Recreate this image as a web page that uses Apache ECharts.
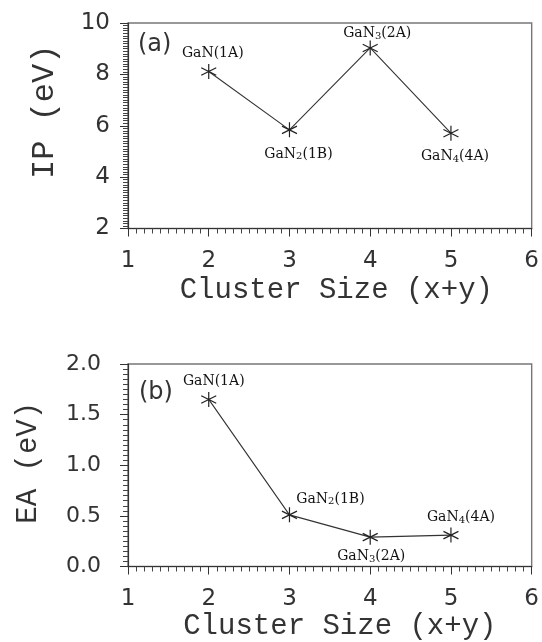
<!DOCTYPE html>
<html>
<head>
<meta charset="utf-8">
<script src="https://cdn.jsdelivr.net/npm/echarts@6/dist/echarts.min.js"></script>
<style>
html,body{margin:0;padding:0;background:#fff;}
#chart{width:542px;height:642px;}
</style>
</head>
<body>
<div id="chart"></div>
<script>
// ---- data ----
var clusterSize = [2, 3, 4, 5];
var ipValues = [8.11, 5.84, 9.03, 5.71];
var eaValues = [1.65, 0.51, 0.29, 0.31];
// species name, subscript count, state
var speciesBase = ['GaN', 'GaN', 'GaN', 'GaN'];
var speciesSub = ['', '2', '3', '4'];
var ipStates = ['(1A)', '(1B)', '(2A)', '(4A)'];
var eaStates = ['(1A)', '(1B)', '(2A)', '(4A)'];
var xTicks = [1, 2, 3, 4, 5, 6];
var ipTicks = [2, 4, 6, 8, 10];
var eaTicks = [0.0, 0.5, 1.0, 1.5, 2.0];

// ---- layout (label offsets relative to each marker) ----
var ipLabelOffsets = [[4, -18], [9, 24], [7, -15], [4, 23]];
var eaLabelOffsets = [[5, -18], [41, -16], [1, 19], [10, -18]];

var star = 'path://M0,-10L0,10M-8.66,-5L8.66,5M-8.66,5L8.66,-5';
var ink = '#222';

function labelText(i, states) {
  var s = '{n|' + speciesBase[i] + '}';
  if (speciesSub[i]) s += '{s|' + speciesSub[i] + '}';
  s += '{n|' + states[i] + '}';
  return s;
}

function buildData(vals, states, offs) {
  return clusterSize.map(function (x, i) {
    return {
      value: [x, vals[i]],
      label: {
        show: true,
        position: 'inside',
        offset: offs[i],
        formatter: labelText(i, states),
        align: 'center',
        verticalAlign: 'middle',
        rich: {
          n: { fontFamily: 'DejaVu Serif', fontSize: 14, lineHeight: 16, color: '#111' },
          s: { fontFamily: 'DejaVu Serif', fontSize: 10, lineHeight: 10, color: '#111', verticalAlign: 'bottom' }
        }
      }
    };
  });
}

function xAxisCfg(idx, nameGap, pad) {
  return {
    gridIndex: idx,
    type: 'value',
    min: xTicks[0],
    max: xTicks[xTicks.length - 1],
    interval: 1,
    axisLine: { show: true, onZero: false, lineStyle: { color: '#333', width: 1.2 } },
    axisTick: { show: true, inside: false, length: 8, lineStyle: { color: '#333' } },
    minorTick: { show: true, splitNumber: 10, length: 5, lineStyle: { color: '#444' } },
    splitLine: { show: false },
    axisLabel: { margin: 21, fontFamily: 'DejaVu Sans', fontSize: 23, color: '#333' },
    name: 'Cluster Size (x+y)',
    nameLocation: 'middle',
    nameGap: nameGap,
    nameTextStyle: { fontFamily: 'Liberation Mono', fontSize: 29, color: '#333', padding: pad }
  };
}

var option = {
  animation: false,
  backgroundColor: '#fff',
  grid: [
    { left: 128, right: 5, top: 23, height: 205.5, show: true, borderColor: '#777', borderWidth: 1.4 },
    { left: 128, right: 5, top: 364, height: 202.5, show: true, borderColor: '#777', borderWidth: 1.4 }
  ],
  xAxis: [xAxisCfg(0, 47, [0, 0, 0, 13]), xAxisCfg(1, 44, [0, 0, 0, 20])],
  yAxis: [
    {
      gridIndex: 0, type: 'value',
      min: ipTicks[0], max: ipTicks[ipTicks.length - 1], interval: 2,
      axisLine: { show: true, onZero: false, lineStyle: { color: '#333', width: 1.2 } },
      axisTick: { show: true, inside: false, length: 8, lineStyle: { color: '#333' } },
      minorTick: { show: true, splitNumber: 20, length: 5, lineStyle: { color: '#444' } },
      splitLine: { show: false },
      axisLabel: { margin: 18, fontFamily: 'DejaVu Sans', fontSize: 23, color: '#333' },
      name: 'IP (eV)', nameLocation: 'middle', nameGap: 67,
      nameTextStyle: { fontFamily: 'Liberation Mono', fontSize: 32, color: '#333', padding: [0, 0, 0, 28] }
    },
    {
      gridIndex: 1, type: 'value',
      min: eaTicks[0], max: eaTicks[eaTicks.length - 1], interval: 0.5,
      axisLine: { show: true, onZero: false, lineStyle: { color: '#333', width: 1.2 } },
      axisTick: { show: true, inside: false, length: 8, lineStyle: { color: '#333' } },
      minorTick: { show: true, splitNumber: 10, length: 5, lineStyle: { color: '#444' } },
      splitLine: { show: false },
      axisLabel: { margin: 27, fontFamily: 'DejaVu Sans', fontSize: 22, color: '#333',
        formatter: function (v) { return v.toFixed(1); } },
      name: 'EA (eV)', nameLocation: 'middle', nameGap: 85,
      nameTextStyle: { fontFamily: 'Liberation Mono', fontSize: 29, color: '#333', padding: [0, 0, 0, 5] }
    }
  ],
  graphic: [
    { type: 'text', left: 138, top: 33, style: { text: '(a)', fontFamily: 'DejaVu Sans', fontSize: 24, fill: '#333' } },
    { type: 'text', left: 139, top: 381, style: { text: '(b)', fontFamily: 'DejaVu Sans', fontSize: 24, fill: '#333' } }
  ],
  series: [
    {
      type: 'line', xAxisIndex: 0, yAxisIndex: 0,
      data: buildData(ipValues, ipStates, ipLabelOffsets),
      symbol: star, symbolSize: 15,
      lineStyle: { color: '#333', width: 1.1 },
      itemStyle: { color: 'rgba(0,0,0,0)', borderColor: '#222', borderWidth: 1.2 }
    },
    {
      type: 'line', xAxisIndex: 1, yAxisIndex: 1,
      data: buildData(eaValues, eaStates, eaLabelOffsets),
      symbol: star, symbolSize: 15,
      lineStyle: { color: '#333', width: 1.1 },
      itemStyle: { color: 'rgba(0,0,0,0)', borderColor: '#222', borderWidth: 1.2 }
    }
  ]
};

var chart = echarts.init(document.getElementById('chart'), null, { renderer: 'canvas' });
chart.setOption(option);
</script>
</body>
</html>
